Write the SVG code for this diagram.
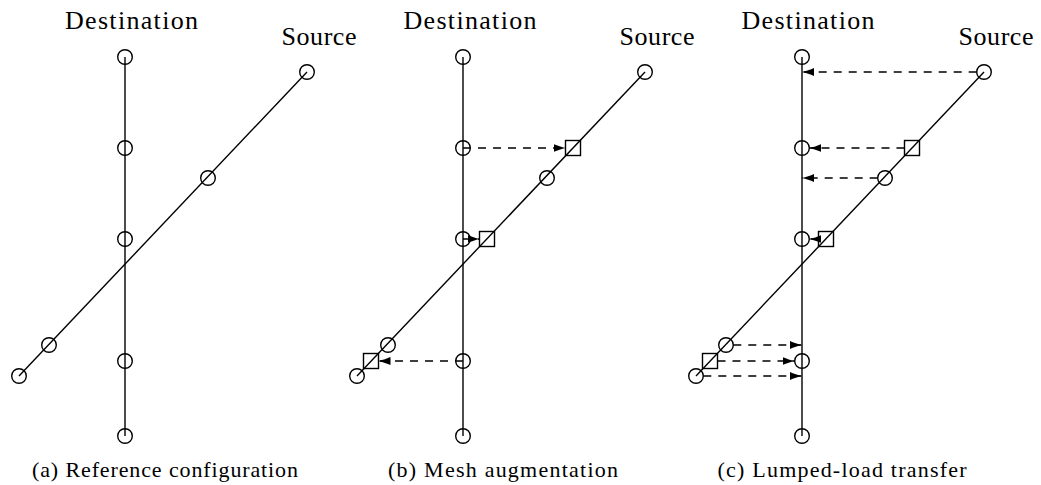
<svg xmlns="http://www.w3.org/2000/svg" width="1041" height="485" viewBox="0 0 1041 485">
<style>
.ln{stroke:#000;stroke-width:1.4;fill:none}
.nd{stroke:#000;stroke-width:1.4;fill:none}
.da{stroke:#000;stroke-width:1.4;fill:none;stroke-dasharray:8 7;marker-end:url(#ah)}
.lbl{font-family:"Liberation Serif","Times New Roman",serif;font-size:26px;fill:#000;text-anchor:middle}
.cap{font-family:"Liberation Serif","Times New Roman",serif;font-size:22px;fill:#000;text-anchor:middle}
</style>
<defs>
<marker id="ah" viewBox="0 0 12 8" refX="12" refY="4" markerWidth="12" markerHeight="8" markerUnits="userSpaceOnUse" orient="auto">
<path d="M12,4 C8,3 3.5,1.6 0,0 L0,8 C3.5,6.4 8,5 12,4 z" fill="#000"/>
</marker>
</defs>
<rect width="1041" height="485" fill="#fff"/>

<!-- Panel (a) -->
<g id="panel-a">
<g id="a-lines">
<line class="ln" x1="125" y1="57" x2="125" y2="436"/>
<line class="ln" x1="19" y1="376" x2="307" y2="72"/>
</g>
<g id="a-d1"><circle class="nd" cx="125" cy="57" r="7.3"/></g>
<g id="a-d2"><circle class="nd" cx="125" cy="148" r="7.3"/></g>
<g id="a-d3"><circle class="nd" cx="125" cy="239" r="7.3"/></g>
<g id="a-d4"><circle class="nd" cx="125" cy="361" r="7.3"/></g>
<g id="a-d5"><circle class="nd" cx="125" cy="436" r="7.3"/></g>
<g id="a-s1"><circle class="nd" cx="307" cy="72" r="7.3"/></g>
<g id="a-s2"><circle class="nd" cx="208" cy="178" r="7.3"/></g>
<g id="a-s3"><circle class="nd" cx="49" cy="345" r="7.3"/></g>
<g id="a-s4"><circle class="nd" cx="19" cy="376" r="7.3"/></g>
<text class="lbl" x="131.5" y="29" textLength="133" lengthAdjust="spacing">Destination</text>
<text class="lbl" x="319" y="45" textLength="75" lengthAdjust="spacing">Source</text>
<text class="cap" x="165" y="477" textLength="266" lengthAdjust="spacing">(a)  Reference configuration</text>
</g>

<!-- Panel (b) -->
<g id="panel-b">
<g id="b-lines">
<line class="ln" x1="463" y1="57" x2="463" y2="436"/>
<line class="ln" x1="357" y1="376" x2="645" y2="72"/>
</g>
<g id="b-d1"><circle class="nd" cx="463" cy="57" r="7.3"/></g>
<g id="b-d2"><circle class="nd" cx="463" cy="148" r="7.3"/></g>
<g id="b-d3"><circle class="nd" cx="463" cy="239" r="7.3"/></g>
<g id="b-d4"><circle class="nd" cx="463" cy="361" r="7.3"/></g>
<g id="b-d5"><circle class="nd" cx="463" cy="436" r="7.3"/></g>
<g id="b-s1"><circle class="nd" cx="645" cy="72" r="7.3"/></g>
<g id="b-s2"><circle class="nd" cx="547" cy="178" r="7.3"/></g>
<g id="b-s3"><circle class="nd" cx="388" cy="345" r="7.3"/></g>
<g id="b-s4"><circle class="nd" cx="357" cy="376" r="7.3"/></g>
<g id="b-q1"><rect class="nd" x="565.5" y="140.5" width="15" height="15"/></g>
<g id="b-q2"><rect class="nd" x="479.5" y="231.5" width="15" height="15"/></g>
<g id="b-q3"><rect class="nd" x="363.5" y="353.5" width="15" height="15"/></g>
<text class="lbl" x="470" y="29" textLength="133" lengthAdjust="spacing">Destination</text>
<text class="lbl" x="657" y="45" textLength="75" lengthAdjust="spacing">Source</text>
<text class="cap" x="503" y="477" textLength="230" lengthAdjust="spacing">(b)  Mesh augmentation</text>
</g>

<!-- Panel (c) -->
<g id="panel-c">
<g id="c-lines">
<line class="ln" x1="802" y1="57" x2="802" y2="436"/>
<line class="ln" x1="696" y1="376" x2="984" y2="72"/>
</g>
<g id="c-d1"><circle class="nd" cx="802" cy="57" r="7.3"/></g>
<g id="c-d2"><circle class="nd" cx="802" cy="148" r="7.3"/></g>
<g id="c-d3"><circle class="nd" cx="802" cy="239" r="7.3"/></g>
<g id="c-d4"><circle class="nd" cx="802" cy="361" r="7.3"/></g>
<g id="c-d5"><circle class="nd" cx="802" cy="436" r="7.3"/></g>
<g id="c-s1"><circle class="nd" cx="984" cy="72" r="7.3"/></g>
<g id="c-s2"><circle class="nd" cx="885" cy="178" r="7.3"/></g>
<g id="c-s3"><circle class="nd" cx="726" cy="345" r="7.3"/></g>
<g id="c-s4"><circle class="nd" cx="696" cy="376" r="7.3"/></g>
<g id="c-q1"><rect class="nd" x="904.5" y="140.5" width="15" height="15"/></g>
<g id="c-q2"><rect class="nd" x="818.5" y="231.5" width="15" height="15"/></g>
<g id="c-q3"><rect class="nd" x="702.5" y="353.5" width="15" height="15"/></g>
<text class="lbl" x="808" y="29" textLength="133" lengthAdjust="spacing">Destination</text>
<text class="lbl" x="996" y="45" textLength="75" lengthAdjust="spacing">Source</text>
<text class="cap" x="842" y="477" textLength="249" lengthAdjust="spacing">(c)  Lumped-load transfer</text>
</g>

<!-- Connectors -->
<g id="connectors">
<line class="da" x1="463" y1="148" x2="565.5" y2="148"/>
<line class="da" x1="463" y1="239" x2="479.5" y2="239"/>
<line class="da" x1="463" y1="361" x2="378.5" y2="361"/>
<line class="da" x1="976.7" y1="72" x2="802" y2="72"/>
<line class="da" x1="904.5" y1="148" x2="809.3" y2="148"/>
<line class="da" x1="877.7" y1="178" x2="802" y2="178"/>
<line class="da" x1="818.5" y1="239" x2="809.3" y2="239"/>
<line class="da" x1="733.3" y1="345" x2="802" y2="345"/>
<line class="da" x1="717.5" y1="361" x2="794.7" y2="361"/>
<line class="da" x1="703.3" y1="376" x2="802" y2="376"/>
</g>
</svg>
